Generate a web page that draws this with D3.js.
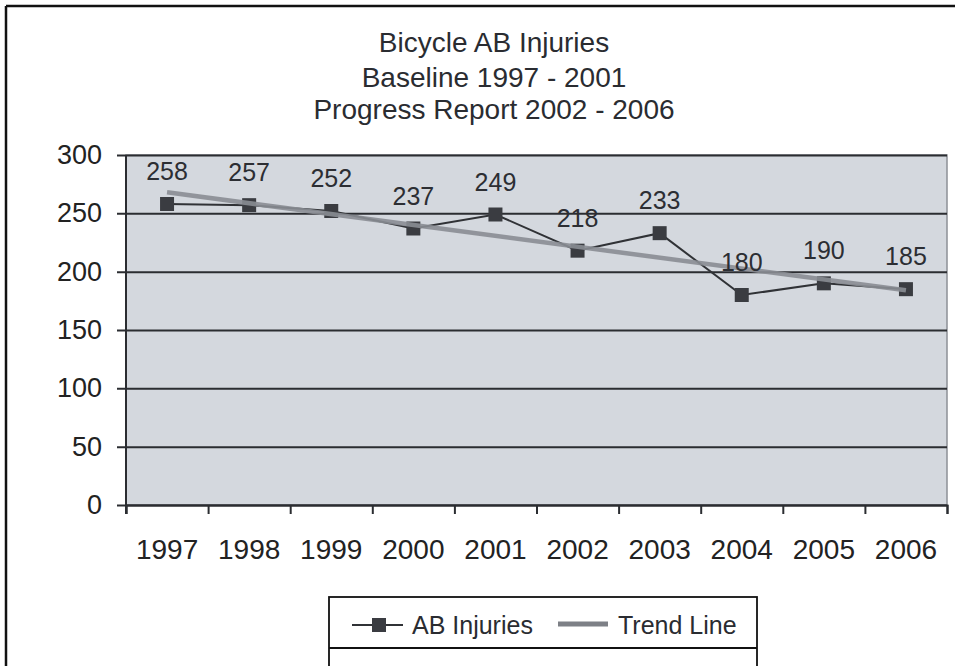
<!DOCTYPE html>
<html>
<head>
<meta charset="utf-8">
<script src="https://cdn.jsdelivr.net/npm/d3@7"></script>
<style>
  html, body { margin: 0; padding: 0; background: #fff; }
  svg { display: block; font-family: "Liberation Sans", Arial, sans-serif; }
</style>
</head>
<body>
<svg width="955" height="666"></svg>
<script>
// chart data
const years = ["1997", "1998", "1999", "2000", "2001", "2002", "2003", "2004", "2005", "2006"];
const injuries = [258, 257, 252, 237, 249, 218, 233, 180, 190, 185];
const trendEnds = [268, 184]; // trend line value at first and last year
const yTicks = [0, 50, 100, 150, 200, 250, 300];
const titleLines = ["Bicycle AB Injuries", "Baseline 1997 - 2001", "Progress Report 2002 - 2006"];
const legendNames = ["AB Injuries", "Trend Line"];

const svg = d3.select("svg");
const plotL = 126, plotR = 947, plotT = 155, plotB = 505;

const x = d3.scaleBand().domain(years).range([plotL, plotR]);
const xEdges = d3.scaleLinear().domain([0, years.length]).range([plotL, plotR]);
const y = d3.scaleLinear().domain([0, 300]).range([plotB, plotT]);
const cx = d => x(d) + x.bandwidth() / 2;

// outer frame (top and left edges visible)
svg.append("line").attr("x1", 6).attr("x2", 955).attr("y1", 6).attr("y2", 6)
  .attr("stroke", "#111").attr("stroke-width", 2.5);
svg.append("line").attr("x1", 6).attr("x2", 6).attr("y1", 6).attr("y2", 666)
  .attr("stroke", "#111").attr("stroke-width", 2.5);

// title
svg.append("g").selectAll("text")
  .data(titleLines)
  .join("text")
  .attr("x", 494)
  .attr("y", (d, i) => [52, 87, 119][i])
  .attr("text-anchor", "middle")
  .attr("font-size", 28)
  .attr("fill", "#2a2c31")
  .text(d => d);

// plot area
svg.append("rect")
  .attr("x", plotL).attr("y", plotT)
  .attr("width", plotR - plotL).attr("height", plotB - plotT)
  .attr("fill", "#d4d8de")
  .attr("stroke", "#8d9096").attr("stroke-width", 1.5);

// gridlines
const grid = svg.append("g")
  .attr("transform", `translate(117,0)`)
  .call(d3.axisLeft(y).tickValues(yTicks).tickSize(-(plotR - 117)).tickFormat(""));
grid.select(".domain").remove();
grid.selectAll("line").attr("stroke", "#2b2d31").attr("stroke-width", 2);

// y labels
const yAx = svg.append("g")
  .attr("transform", `translate(${plotL},0)`)
  .call(d3.axisLeft(y).tickValues(yTicks).tickSize(0).tickPadding(24));
yAx.select(".domain").remove();
yAx.selectAll("text").attr("font-size", 27).attr("fill", "#222").attr("font-family", "Liberation Sans, Arial, sans-serif");

// y axis line
svg.append("line").attr("x1", plotL).attr("x2", plotL).attr("y1", plotT).attr("y2", plotB + 9)
  .attr("stroke", "#2b2d31").attr("stroke-width", 2);

// x ticks at category edges
const xt = svg.append("g")
  .attr("transform", `translate(0,${plotB})`)
  .call(d3.axisBottom(xEdges).tickValues(d3.range(years.length + 1)).tickSize(9).tickFormat(""));
xt.select(".domain").attr("stroke", "#2b2d31").attr("stroke-width", 2);
xt.selectAll("line").attr("stroke", "#2b2d31").attr("stroke-width", 2);

// x labels
const xAx = svg.append("g")
  .attr("transform", `translate(0,${plotB})`)
  .call(d3.axisBottom(x).tickSize(0).tickPadding(34));
xAx.select(".domain").remove();
xAx.selectAll("text").attr("font-size", 28).attr("fill", "#222").attr("font-family", "Liberation Sans, Arial, sans-serif");

// series line
const line = d3.line().x((d, i) => cx(years[i])).y(d => y(d));
svg.append("path")
  .datum(injuries)
  .attr("d", line)
  .attr("fill", "none")
  .attr("stroke", "#303236")
  .attr("stroke-width", 2);

// markers
svg.append("g").selectAll("rect")
  .data(injuries)
  .join("rect")
  .attr("x", (d, i) => cx(years[i]) - 7)
  .attr("y", d => y(d) - 7)
  .attr("width", 14).attr("height", 14)
  .attr("fill", "#3a3c41");

// trend line
svg.append("line")
  .attr("x1", cx(years[0])).attr("y1", y(trendEnds[0]))
  .attr("x2", cx(years[years.length - 1])).attr("y2", y(trendEnds[1]))
  .attr("stroke", "#8a8d93").attr("stroke-width", 4.5)
  .attr("stroke-opacity", 0.9);

// data labels
svg.append("g").selectAll("text")
  .data(injuries)
  .join("text")
  .attr("x", (d, i) => cx(years[i]))
  .attr("y", d => y(d) - 24)
  .attr("text-anchor", "middle")
  .attr("font-size", 25)
  .attr("fill", "#2c2e33")
  .text(d => d);

// legend
const lg = svg.append("g");
lg.append("rect").attr("x", 329).attr("y", 597).attr("width", 428).attr("height", 90)
  .attr("fill", "#fff").attr("stroke", "#111").attr("stroke-width", 1.8);
lg.append("line").attr("x1", 329).attr("x2", 757).attr("y1", 648).attr("y2", 648)
  .attr("stroke", "#111").attr("stroke-width", 1.8);
lg.append("line").attr("x1", 352).attr("x2", 403).attr("y1", 625).attr("y2", 625)
  .attr("stroke", "#303236").attr("stroke-width", 2);
lg.append("rect").attr("x", 372).attr("y", 618).attr("width", 14).attr("height", 14)
  .attr("fill", "#3a3c41");
lg.append("line").attr("x1", 558).attr("x2", 608).attr("y1", 624).attr("y2", 624)
  .attr("stroke", "#7d8086").attr("stroke-width", 5);
lg.selectAll("text.leg")
  .data(legendNames)
  .join("text")
  .attr("class", "leg")
  .attr("x", (d, i) => [412, 618][i])
  .attr("y", 634)
  .attr("font-size", 25)
  .attr("fill", "#2a2c31")
  .text(d => d);
</script>
</body>
</html>
